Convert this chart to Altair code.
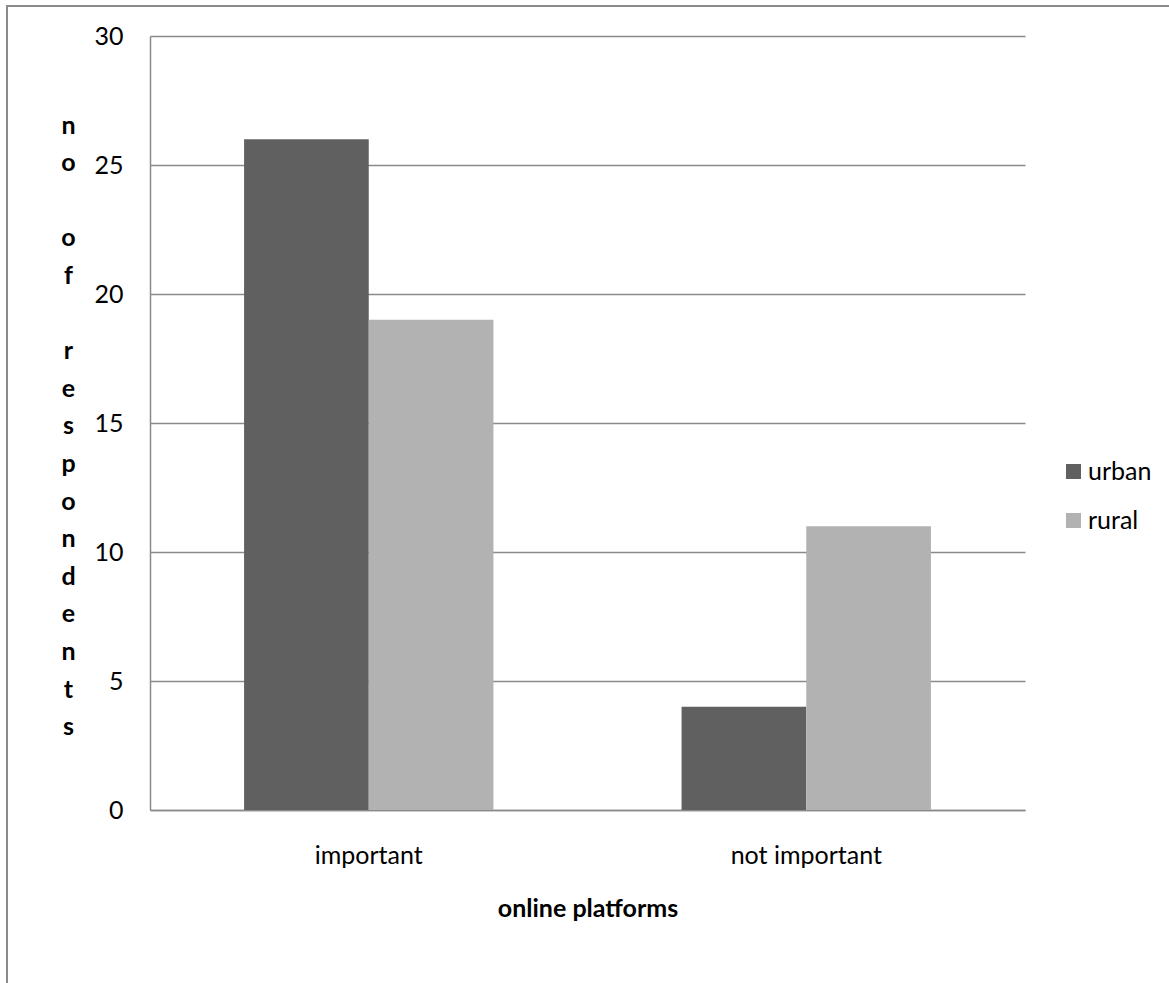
import altair as alt
import pandas as pd

# Survey counts by platform importance and area
categories = ["important", "not important"]
groups = ["urban", "rural"]
urban_counts = [26, 4]
rural_counts = [19, 11]
y_ticks = [0, 5, 10, 15, 20, 25, 30]

rows = []
for i, cat in enumerate(categories):
    rows.append({"platform": cat, "area": "urban", "count": urban_counts[i]})
    rows.append({"platform": cat, "area": "rural", "count": rural_counts[i]})
df = pd.DataFrame(rows)

FONT = "Lato"
SIZE = 25
GRID = "#8a8a8a"

# Vertical title, one letter per line; a blank glyph keeps the empty line between words
BLANK = "\u2800"
y_title = ["n", "o", BLANK, "o", "f", BLANK, "r", "e", "s", "p", "o", "n", "d", "e", "n", "t", "s"]

bars = alt.Chart(df).mark_bar().encode(
    x=alt.X(
        "platform:N",
        sort=categories,
        scale=alt.Scale(paddingInner=0.43, paddingOuter=0.215),
        axis=alt.Axis(
            title="online platforms",
            labelAngle=0,
            ticks=False,
            domainColor=GRID,
            domainWidth=1.5,
            labelPadding=33,
            titlePadding=28,
            titleFontWeight="bold",
        ),
    ),
    xOffset=alt.XOffset("area:N", sort=groups),
    y=alt.Y(
        "count:Q",
        scale=alt.Scale(domain=[0, 30], nice=False),
        axis=alt.Axis(
            values=y_ticks,
            title=y_title,
            titleAngle=0,
            titleAlign="center",
            titleBaseline="middle",
            titleLineHeight=37.6,
            titleX=-82,
            titleY=89,
            titleFontWeight="bold",
            ticks=False,
            labelPadding=27,
            domainColor=GRID,
            domainWidth=1.5,
            grid=True,
            gridColor=GRID,
            gridWidth=1.5,
        ),
    ),
    color=alt.Color(
        "area:N",
        sort=groups,
        scale=alt.Scale(domain=groups, range=["#606060", "#b2b2b2"]),
        legend=alt.Legend(
            title=None,
            orient="none",
            legendX=911,
            legendY=423,
            symbolType="square",
            symbolSize=225,
            symbolStrokeWidth=0,
            rowPadding=23,
            labelOffset=2,
        ),
    ),
)

# Outer frame around the whole figure
frame = alt.Chart(alt.Data(values=[{}])).mark_rect(
    fill=None, stroke="#8a8a8a", strokeWidth=2
).encode(
    x=alt.value(-143), x2=alt.value(1040),
    y=alt.value(-30), y2=alt.value(1000),
)

chart = alt.layer(frame, bars).properties(
    width=875,
    height=774,
    autosize=alt.AutoSizeParams(type="none"),
    padding={"left": 150, "top": 36, "right": 144, "bottom": 173},
    background="white",
).configure_view(stroke=None).configure_axis(
    labelFont=FONT, titleFont=FONT, labelFontSize=SIZE, titleFontSize=SIZE,
    labelColor="black", titleColor="black",
).configure_legend(
    labelFont=FONT, labelFontSize=SIZE, labelColor="black",
)

chart.save("out.html", embed_options={"renderer": "svg", "actions": False})
